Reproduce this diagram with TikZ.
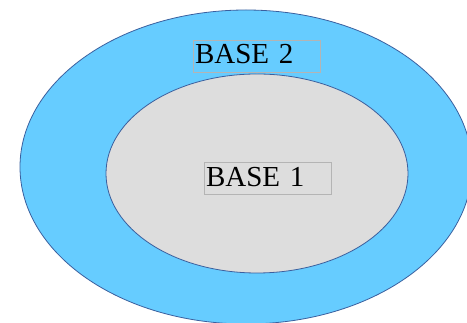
\documentclass[tikz,border=0pt]{standalone}
\usepackage{fontspec}
\setmainfont{Liberation Serif}
\usetikzlibrary{shapes.geometric}
\definecolor{BaseBlau}{HTML}{66CCFF}
\definecolor{BaseGrau}{HTML}{DDDDDD}
\definecolor{BaseRand}{HTML}{3A5F9E}
\definecolor{BoxRand}{HTML}{B4B4B4}
\newcommand{\basefont}{\fontsize{29}{32}\selectfont}
\newcommand{\baseellipse}[5]{% name, centre, width, height, fill
  \node[ellipse, draw=BaseRand, line width=0.8pt, fill=#5, inner sep=0pt,
    minimum width=#3, minimum height=#4] (#1) at (#2) {};}
\newcommand{\baselabel}[3]{% name, centre, text
  \node[draw=BoxRand, line width=0.8pt, inner sep=2pt, text width=123pt,
    text height=22pt, text depth=6pt, align=left, font=\basefont]
  (#1) at (#2) {#3};}

\begin{document}
\begin{tikzpicture}[x=1pt, y=1pt]
  \useasboundingbox (0,0) rectangle (467,323);

  % draw the two ellipses
  \baseellipse{base2}{246,156}{452pt}{314pt}{BaseBlau}
  \baseellipse{base1}{257,149.5}{302pt}{199pt}{BaseGrau}

  % labels
  \baselabel{label2}{256.5,267}{BASE 2}
  \baselabel{label1}{267.5,144.5}{BASE 1}

\end{tikzpicture}
\end{document}
